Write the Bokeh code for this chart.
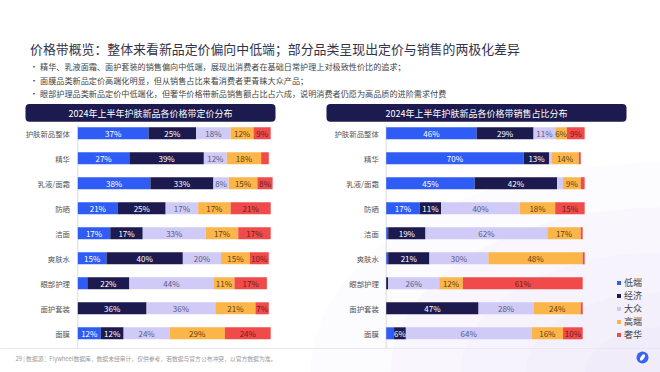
from bokeh.plotting import figure
from bokeh.models import Range1d, ColumnDataSource, BoxAnnotation, Legend, LegendItem
from bokeh.core.properties import value
from bokeh.embed import file_html
from bokeh.resources import INLINE

# ---------------- data ----------------
categories = ["护肤新品整体", "精华", "乳液/面霜", "防晒", "洁面", "爽肤水", "眼部护理", "面护套装", "面膜"]
tiers = ["低端", "经济", "大众", "高端", "奢华"]

price_low = [37, 27, 38, 21, 17, 15, 5, 0, 12]
price_eco = [25, 39, 33, 25, 17, 40, 22, 36, 12]
price_mass = [18, 12, 8, 17, 33, 20, 44, 36, 24]
price_high = [12, 18, 15, 17, 17, 15, 11, 21, 29]
price_lux = [9, 4, 8, 21, 17, 10, 17, 7, 24]

sales_low = [46, 70, 45, 17, 1, 1, 0, 0, 4]
sales_eco = [29, 13, 42, 11, 19, 21, 1, 47, 6]
sales_mass = [11, 1, 3, 40, 62, 30, 26, 28, 64]
sales_high = [6, 14, 9, 18, 17, 48, 12, 24, 16]
sales_lux = [9, 1, 2, 15, 1, 1, 61, 1, 10]

title_text = "价格带概览：整体来看新品定价偏向中低端；部分品类呈现出定价与销售的两极化差异"
bullets = [
    "精华、乳液面霜、面护套装的销售偏向中低端，展现出消费者在基础日常护理上对极致性价比的追求；",
    "面膜品类新品定价高端化明显，但从销售占比来看消费者更青睐大众产品；",
    "眼部护理品类新品定价中低端化，但奢华价格带新品销售额占比占六成，说明消费者仍愿为高品质的进阶需求付费",
]
left_title = "2024年上半年护肤新品各价格带定价分布"
right_title = "2024年上半年护肤新品各价格带销售占比分布"
footer_text = "29  |  数据源：Flywheel数据库，数据未经审计，仅供参考，若数据与官方公布冲突，以官方数据为准。"

# ---------------- styles ----------------
colors = ["#2f5cf4", "#1c1a4e", "#cfcbf6", "#fbb548", "#f04a4a"]
label_colors = ["#ffffff", "#ffffff", "#5a5a80", "#5c4318", "#6b1e1e"]
FONT = value("Noto Sans CJK SC")
W, H = 660, 372

p = figure(width=W, height=H, output_backend="svg", toolbar_location=None,
           x_range=Range1d(0, W), y_range=Range1d(H, 0), min_border=0)
p.axis.visible = False
p.grid.visible = False
p.outline_line_color = None
p.background_fill_color = "#ffffff"
p.border_fill_color = "#ffffff"

# soft lavender glow bottom-right
for w_, h_ in [(700, 420), (540, 330), (400, 240), (270, 160), (150, 90)]:
    p.ellipse(x=[W], y=[H], width=w_, height=h_, fill_color="#cfcdf3", fill_alpha=0.07, line_color=None)

# scales for the two bar panels (pixel position of 0% and pixels per percent)
L0, LS = 77.3, 1.91
R0, RS = 385.7, 1.965
ROW0, ROWS = 132.8, 25.0
p.extra_x_ranges = {
    "Lx": Range1d(-L0 / LS, (W - L0) / LS),
    "Rx": Range1d(-R0 / RS, (W - R0) / RS),
}
p.extra_y_ranges = {"rows": Range1d((H - ROW0) / ROWS, -ROW0 / ROWS)}

# title & bullets
p.text(x=[29.5], y=[48], text=[title_text], text_font=FONT, text_font_size="12.9px",
       text_color="#33334d", text_baseline="middle")
by = [66, 79.5, 93]
p.text(x=[29.5] * 3, y=by, text=["•"] * 3, text_font=FONT, text_font_size="8px",
       text_color="#444444", text_baseline="middle")
p.text(x=[39.5] * 3, y=by, text=bullets, text_font=FONT, text_font_size="8.15px",
       text_color="#444444", text_baseline="middle")

# panel headers
for (l, r, t) in [(25, 275, left_title), (326, 626, right_title)]:
    p.add_layout(BoxAnnotation(left=l, right=r, top=103.5, bottom=121.3, fill_color="#1c1a4e",
                               fill_alpha=1, line_color=None, border_radius=4, level="underlay"))
    p.text(x=[(l + r) / 2], y=[112.6], text=[t], text_font=FONT, text_font_size="9px",
           text_color="#ffffff", text_align="center", text_baseline="middle")

idx = list(range(len(categories)))


def draw_panel(series, xname, label_x):
    # axis line
    p.segment(x0=[0], x1=[0], y0=[-0.33], y1=[8.6], x_range_name=xname, y_range_name="rows",
              line_color="#dcdcdc", line_width=1)
    left = [0] * len(categories)
    rends = []
    for k, vals in enumerate(series):
        right = [a + b for a, b in zip(left, vals)]
        src = ColumnDataSource(dict(y=idx, left=left, right=right))
        r = p.hbar(y="y", left="left", right="right", height=0.48, source=src,
                   fill_color=colors[k], line_color=None, x_range_name=xname, y_range_name="rows")
        rends.append(r)
        lx, ly, lt = [], [], []
        for i, v in enumerate(vals):
            if v >= 6:
                lx.append(left[i] + v / 2)
                ly.append(i)
                lt.append(f"{v}%")
        p.text(x=lx, y=ly, text=lt, text_font=FONT, text_font_size="8px",
               text_color=label_colors[k], text_align="center", text_baseline="middle",
               x_range_name=xname, y_range_name="rows")
        left = right
    p.text(x=[label_x] * len(categories), y=idx, text=categories, text_font=FONT,
           text_font_size="7.4px", text_color="#555555", text_align="right",
           text_baseline="middle", y_range_name="rows")
    return rends


draw_panel([price_low, price_eco, price_mass, price_high, price_lux], "Lx", 69.5)
rr = draw_panel([sales_low, sales_eco, sales_mass, sales_high, sales_lux], "Rx", 378.3)

legend = Legend(items=[LegendItem(label=t, renderers=[r]) for t, r in zip(tiers, rr)],
                location=(616, 31), orientation="vertical", glyph_width=5, glyph_height=5,
                label_standoff=3, label_text_font="Noto Sans CJK SC", label_text_font_size="9px",
                label_text_color="#444444", label_height=10, spacing=0, padding=0, margin=0,
                border_line_color=None, background_fill_alpha=0)
p.add_layout(legend, "center")

# footer
p.segment(x0=[0], x1=[W], y0=[348], y1=[348], line_color="#e8e8f0", line_width=1)
p.text(x=[15], y=[357.5], text=[footer_text], text_font=FONT, text_font_size="5.8px",
       text_color="#999999", text_baseline="middle")
p.scatter(x=[642], y=[357], size=12, marker="circle", fill_color="#3b63f0", line_color=None)
p.ellipse(x=[642], y=[357], width=3.5, height=7, angle=-0.6, fill_color="#ffffff", line_color=None)

open("out.html", "w").write(file_html(p, INLINE))
